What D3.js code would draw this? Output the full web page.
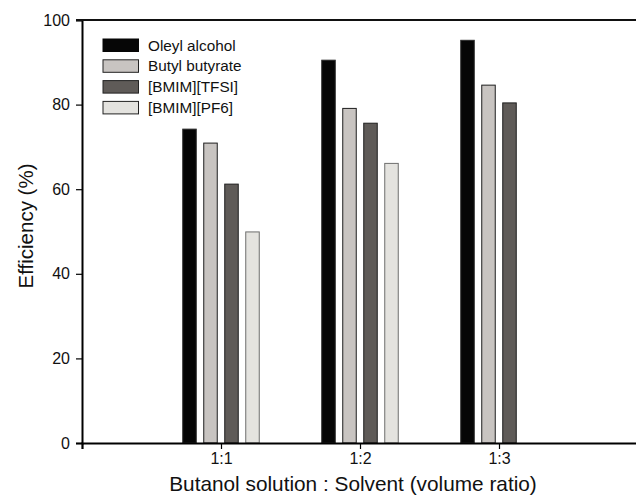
<!DOCTYPE html>
<html><head><meta charset="utf-8">
<script src="https://cdn.jsdelivr.net/npm/d3@7"></script>
<style>body{margin:0;background:#fff}svg{display:block;font-family:Arial,"Liberation Sans",sans-serif}</style>
</head><body><svg id="c" width="636" height="496"></svg>
<script>
const categories = ["1:1", "1:2", "1:3"];
const seriesNames = ["Oleyl alcohol", "Butyl butyrate", "[BMIM][TFSI]", "[BMIM][PF6]"];
const oleylAlcohol = [74.2, 90.5, 95.2];
const butylButyrate = [70.9, 79.1, 84.6];
const bmimTfsi = [61.2, 75.6, 80.4];
const bmimPf6 = [49.9, 66.1, null];
const yTicks = [0, 20, 40, 60, 80, 100];
const fills = ["#060606", "#c8c4c1", "#5f5b58", "#e4e3df"];
const strokes = ["#2a2a2a", "#1e1e1e", "#1e1e1e", "#6e6e6e"];

const series = [oleylAlcohol, butylButyrate, bmimTfsi, bmimPf6];
const svg = d3.select("#c");
const mLeft = 82, mTop = 20, mBottom = 443, mRight = 638;
const x = d3.scaleLinear().domain([0, 4]).range([mLeft, mRight]);
const y = d3.scaleLinear().domain([0, 100]).range([mBottom, mTop]);
const slot = d3.scaleBand().domain(d3.range(4)).range([-38.25, 38.25]).paddingInner(0.357);

// bars
series.forEach((vals, si) => {
  svg.append("g").selectAll("rect").data(vals.map((v, ci) => ({v, ci})).filter(d => d.v != null))
    .join("rect")
    .attr("x", d => x(d.ci + 1) + slot(si))
    .attr("width", slot.bandwidth())
    .attr("y", d => y(d.v))
    .attr("height", d => y(0) - y(d.v))
    .attr("fill", fills[si])
    .attr("stroke", strokes[si]).attr("stroke-width", 1);
});

// axes
const ya = svg.append("g").attr("transform", `translate(${mLeft},0)`)
  .call(d3.axisLeft(y).tickValues(yTicks).tickSize(6).tickPadding(6));
ya.select(".domain").attr("stroke", "#000").attr("stroke-width", 2);
ya.selectAll("line").attr("stroke", "#000").attr("stroke-width", 1.2);
ya.selectAll("text").attr("font-size", 16).attr("fill", "#111");

const xa = svg.append("g").attr("transform", `translate(0,${mBottom})`)
  .call(d3.axisBottom(x).tickValues([1, 2, 3]).tickFormat(d => categories[d - 1]).tickSize(6).tickPadding(4));
xa.select(".domain").attr("stroke", "#000").attr("stroke-width", 2.2);
xa.selectAll("line").attr("stroke", "#000").attr("stroke-width", 1.2);
xa.selectAll("text").attr("font-size", 16).attr("fill", "#111");

// top border
svg.append("line").attr("x1", mLeft - 6).attr("x2", mRight).attr("y1", y(100)).attr("y2", y(100))
  .attr("stroke", "#111").attr("stroke-width", 2);

// titles
svg.append("text").attr("x", 353).attr("y", 491).attr("text-anchor", "middle")
  .attr("font-size", 20.8).attr("fill", "#111").text("Butanol solution : Solvent (volume ratio)");
svg.append("text").attr("transform", `translate(33,226) rotate(-90)`)
  .attr("text-anchor", "middle").attr("font-size", 20.5).attr("fill", "#111").text("Efficiency (%)");

// legend
const lg = svg.append("g").attr("transform", "translate(103,39)");
seriesNames.forEach((n, i) => {
  const g = lg.append("g").attr("transform", `translate(0,${i * 20.8})`);
  g.append("rect").attr("width", 35.5).attr("height", 12.5).attr("fill", fills[i])
    .attr("stroke", i === 0 ? "#060606" : "#222").attr("stroke-width", 1);
  g.append("text").attr("x", 45).attr("y", 11.5).attr("font-size", 15.3).attr("fill", "#111").text(n);
});
</script></body></html>
